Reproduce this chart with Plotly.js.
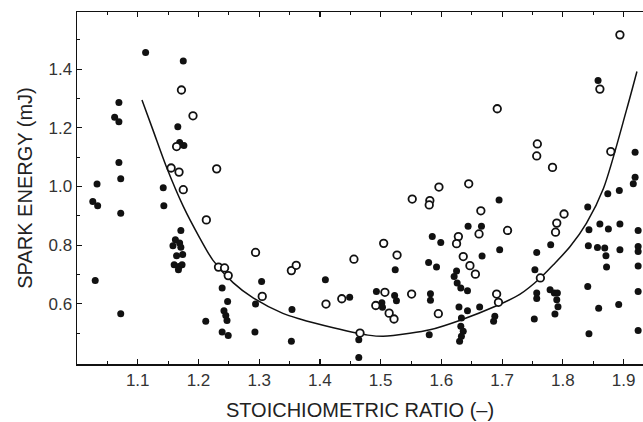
<!DOCTYPE html>
<html>
<head>
<meta charset="utf-8">
<script src="https://cdn.plot.ly/plotly-3.0.1.min.js"></script>
<style>html,body{margin:0;padding:0;background:#fff;}#chart{width:643px;height:422px;}</style>
</head>
<body>
<div id="chart"></div>
<script>
// Filled-dot series
const filledX = [1.113,1.175,1.069,1.062,1.069,1.166,1.169,1.176,1.069,1.072,1.033,1.142,1.026,1.034,1.072,1.143,
1.171,1.162,1.169,1.158,1.171,1.164,1.174,1.160,1.168,1.173,1.167,1.030,1.072,1.212,
1.239,1.248,1.242,1.245,1.247,1.239,1.249,1.304,1.294,1.293,1.354,1.353,1.409,1.449,1.464,1.464,
1.493,1.502,1.503,1.524,1.523,1.526,1.580,1.582,1.582,1.585,1.599,1.579,1.592,
1.625,1.621,1.626,1.632,1.643,1.629,1.643,1.633,1.632,1.636,1.633,1.630,
1.644,1.666,1.667,1.663,1.695,1.696,1.688,1.686,
1.757,1.780,1.754,1.757,1.757,1.753,1.779,1.786,1.791,1.790,1.792,1.787,
1.841,1.874,1.893,1.916,1.919,1.919,1.858,1.843,1.861,1.875,1.894,1.924,
1.842,1.857,1.869,1.871,1.894,1.924,1.924,1.872,1.924,1.841,1.924,1.892,1.859,1.843,1.924];
const filledY = [1.457,1.428,1.286,1.236,1.221,1.204,1.150,1.140,1.082,1.026,1.008,0.996,0.949,0.934,0.909,0.934,
0.850,0.818,0.807,0.798,0.793,0.764,0.768,0.733,0.727,0.733,0.716,0.679,0.566,0.540,
0.654,0.608,0.576,0.560,0.543,0.504,0.492,0.676,0.599,0.504,0.580,0.472,0.682,0.622,0.477,0.417,
0.642,0.603,0.588,0.716,0.628,0.610,0.494,0.634,0.612,0.829,0.809,0.741,0.725,
0.712,0.693,0.671,0.654,0.644,0.589,0.576,0.551,0.523,0.506,0.489,0.472,
0.864,0.864,0.763,0.589,0.954,0.784,0.557,0.540,
0.775,0.801,0.716,0.637,0.618,0.548,0.648,0.637,0.637,0.614,0.590,0.565,
0.930,0.975,0.986,1.009,1.031,1.117,1.361,0.852,0.872,0.855,0.872,0.850,
0.798,0.792,0.790,0.764,0.784,0.795,0.778,0.725,0.729,0.659,0.642,0.597,0.585,0.498,0.509];

// Open-circle series
const openX = [1.172,1.191,1.164,1.155,1.168,1.230,1.175,1.213,1.233,1.243,1.249,1.294,1.305,1.353,1.361,
1.410,1.436,1.456,1.466,1.505,1.527,1.507,1.492,1.514,1.522,1.551,1.552,1.596,1.645,1.581,1.580,
1.665,1.628,1.625,1.662,1.636,1.647,1.656,1.595,1.691,1.694,1.709,1.692,1.758,1.757,1.783,1.763,
1.802,1.790,1.788,1.861,1.879,1.894];
const openY = [1.329,1.241,1.136,1.063,1.049,1.060,0.989,0.886,0.725,0.722,0.696,0.775,0.625,0.713,0.731,
0.599,0.617,0.752,0.500,0.806,0.766,0.639,0.594,0.568,0.548,0.633,0.957,0.998,1.009,0.952,0.937,
0.917,0.829,0.805,0.838,0.761,0.730,0.701,0.566,0.633,0.605,0.850,1.265,1.145,1.104,1.065,0.688,
0.906,0.875,0.844,1.332,1.119,1.517];

// Fitted curve
const curveX = [1.107,1.125,1.147,1.175,1.202,1.224,1.257,1.290,1.339,1.367,1.422,1.460,1.479,1.504,1.548,1.581,1.630,1.691,1.729,1.763,1.784,1.812,1.839,1.867,1.905,1.922];
const curveY = [1.295,1.193,1.068,0.932,0.825,0.748,0.672,0.620,0.567,0.548,0.518,0.500,0.493,0.489,0.499,0.511,0.543,0.593,0.632,0.688,0.732,0.795,0.875,0.994,1.262,1.392];

const xTicks = [1.1,1.2,1.3,1.4,1.5,1.6,1.7,1.8,1.9];
const xTickText = ['1.1','1.2','1.3','1.4','1.5','1.6','1.7','1.8','1.9'];
const yTicks = [0.6,0.8,1.0,1.2,1.4];
const yTickText = ['0.6','0.8','1.0','1.2','1.4'];
const xMinor = [1.05,1.15,1.25,1.35,1.45,1.55,1.65,1.75,1.85];
const yMinor = [0.5,0.7,0.9,1.1,1.3,1.5];

const traces = [
  {x: curveX, y: curveY, type: 'scatter', mode: 'lines', line: {color: '#111', width: 1.5, shape: 'spline', smoothing: 0.8}, hoverinfo: 'skip'},
  {x: filledX, y: filledY, type: 'scatter', mode: 'markers', marker: {symbol: 'circle', size: 7, color: '#111', line: {width: 0}}},
  {x: openX, y: openY, type: 'scatter', mode: 'markers', marker: {symbol: 'circle', size: 7.5, color: '#fff', line: {color: '#111', width: 1.8}}}
];

const layout = {
  width: 643, height: 422,
  margin: {l: 77, r: 0, t: 12, b: 58, pad: 0},
  paper_bgcolor: '#fff', plot_bgcolor: '#fff',
  showlegend: false,
  font: {family: 'Liberation Sans, Arial, sans-serif', color: '#333'},
  xaxis: {
    range: [1.0, 1.932], showgrid: false, zeroline: false,
    showline: true, linecolor: '#111', linewidth: 1.5, mirror: 'ticks',
    ticks: 'inside', ticklen: 5, tickwidth: 1.2, tickcolor: '#111',
    tickmode: 'array', tickvals: xTicks, ticktext: xTickText,
    tickfont: {size: 17, color: '#333'},
    minor: {tickmode: 'array', tickvals: xMinor, ticks: 'inside', ticklen: 3, tickwidth: 1, tickcolor: '#111'},
    title: {text: 'STOICHIOMETRIC RATIO (–)', font: {size: 20, color: '#222'}, standoff: 14}
  },
  yaxis: {
    range: [0.3945, 1.595], showgrid: false, zeroline: false,
    showline: true, linecolor: '#111', linewidth: 1.5, mirror: false,
    ticks: 'inside', ticklen: 5, tickwidth: 1.2, tickcolor: '#111',
    tickmode: 'array', tickvals: yTicks, ticktext: yTickText,
    tickfont: {size: 17, color: '#333'},
    minor: {tickmode: 'array', tickvals: yMinor, ticks: 'inside', ticklen: 3, tickwidth: 1, tickcolor: '#111'},
    title: {text: 'SPARK ENERGY (mJ)', font: {size: 20, color: '#222'}, standoff: 10}
  }
};

Plotly.newPlot('chart', traces, layout, {displayModeBar: false, staticPlot: true});
</script>
</body>
</html>
